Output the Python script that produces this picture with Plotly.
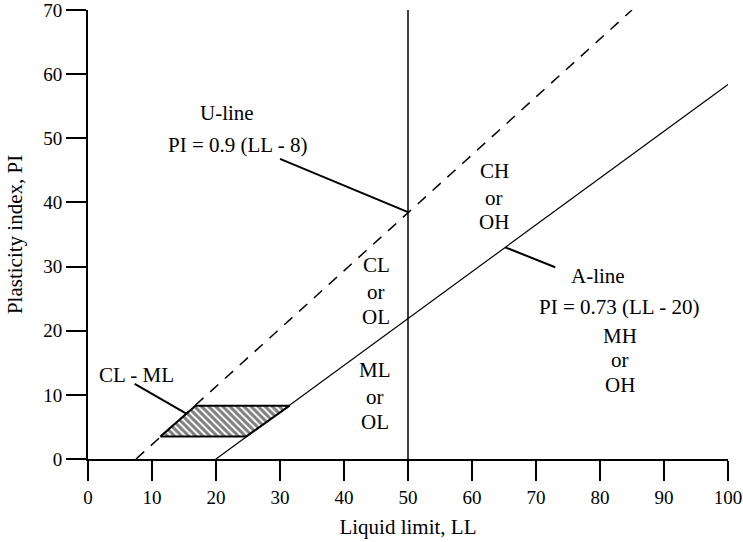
import plotly.graph_objects as go

# ---- data ----
x_tick_vals = [0, 10, 20, 30, 40, 50, 60, 70, 80, 90, 100]
y_tick_vals = [0, 10, 20, 30, 40, 50, 60, 70]

# A-line: PI = 0.73 (LL - 20)
a_line_ll = [20, 100]
a_line_pi = [0, 58.4]
# U-line: PI = 0.9 (LL - 8)
u_line_ll = [7.5, 85]
u_line_pi = [0, 70]
# LL = 50 divider
div_ll = [50, 50]
div_pi = [0, 70]
# CL-ML hatched zone
clml_ll = [11.3, 24.7, 31.5, 16.8, 11.3]
clml_pi = [3.5, 3.5, 8.3, 8.3, 3.5]

# leader lines
u_ptr_ll = [30.0, 50.0]
u_ptr_pi = [46.8, 38.5]
a_ptr_ll = [65.2, 73.0]
a_ptr_pi = [33.0, 29.9]
clml_ptr_ll = [7.3, 15.5]
clml_ptr_pi = [11.7, 7.0]

label_texts = ["U-line", "PI = 0.9 (LL - 8)",
               "CH", "or", "OH",
               "CL", "or", "OL",
               "A-line", "PI = 0.73 (LL - 20)",
               "MH", "or", "OH",
               "ML", "or", "OL",
               "CL - ML"]
label_ll = [21.7, 23.4,
            63.5, 63.5, 63.5,
            45.0, 45.0, 45.0,
            79.7, 82.9,
            83.2, 83.2, 83.2,
            44.9, 44.9, 44.9,
            7.65]
label_pi = [53.9, 49.0,
            44.95, 40.75, 37.0,
            30.25, 26.1, 22.2,
            28.6, 23.7,
            19.2, 15.5, 11.6,
            13.9, 9.7, 5.8,
            13.1]

FONT = "Liberation Serif, Times New Roman, serif"

fig = go.Figure()

fig.add_trace(go.Scatter(
    x=clml_ll, y=clml_pi, mode="lines", fill="toself",
    fillcolor="white",
    fillpattern=dict(shape="\\", size=5, solidity=0.6, fgcolor="black", bgcolor="white"),
    line=dict(color="black", width=2), hoverinfo="skip", showlegend=False))

fig.add_trace(go.Scatter(x=u_line_ll, y=u_line_pi, mode="lines",
                         line=dict(color="black", width=1.5, dash="11px,9px"),
                         hoverinfo="skip", showlegend=False))
fig.add_trace(go.Scatter(x=a_line_ll, y=a_line_pi, mode="lines",
                         line=dict(color="black", width=1.2),
                         hoverinfo="skip", showlegend=False))
fig.add_trace(go.Scatter(x=div_ll, y=div_pi, mode="lines",
                         line=dict(color="black", width=1.5),
                         hoverinfo="skip", showlegend=False))
for px, py in [(u_ptr_ll, u_ptr_pi), (a_ptr_ll, a_ptr_pi), (clml_ptr_ll, clml_ptr_pi)]:
    fig.add_trace(go.Scatter(x=px, y=py, mode="lines",
                             line=dict(color="black", width=2),
                             hoverinfo="skip", showlegend=False))

for t, lx, ly in zip(label_texts, label_ll, label_pi):
    fig.add_annotation(x=lx, y=ly, text=t, showarrow=False, xanchor="center", yanchor="middle",
                       font=dict(family=FONT, size=21, color="black"))

fig.update_layout(
    width=743, height=542,
    margin=dict(l=88, r=15, t=10, b=83),
    paper_bgcolor="white", plot_bgcolor="white",
    font=dict(family=FONT, size=19, color="black"),
    showlegend=False,
    hovermode=False,
)
fig.update_xaxes(range=[0, 100], tickvals=x_tick_vals, showgrid=False, zeroline=False,
                 showline=True, linewidth=2, linecolor="black", automargin=False,
                 ticks="outside", ticklen=20, tickwidth=2, tickcolor="black",
                 ticklabeloverflow="allow",
                 tickfont=dict(family=FONT, size=19),
                 title=dict(text="Liquid limit, LL", font=dict(family=FONT, size=21), standoff=13))
fig.update_yaxes(range=[0, 70], tickvals=y_tick_vals, showgrid=False, zeroline=False,
                 showline=True, linewidth=2, linecolor="black", automargin=False,
                 ticks="outside", ticklen=20, tickwidth=2, tickcolor="black",
                 ticklabeloverflow="allow",
                 tickfont=dict(family=FONT, size=19),
                 title=dict(text="Plasticity index, PI", font=dict(family=FONT, size=21), standoff=15))

fig.write_html("out.html",
               config={"displayModeBar": False, "staticPlot": True},
               post_script="document.body.style.margin='0';document.body.style.overflow='hidden';")
